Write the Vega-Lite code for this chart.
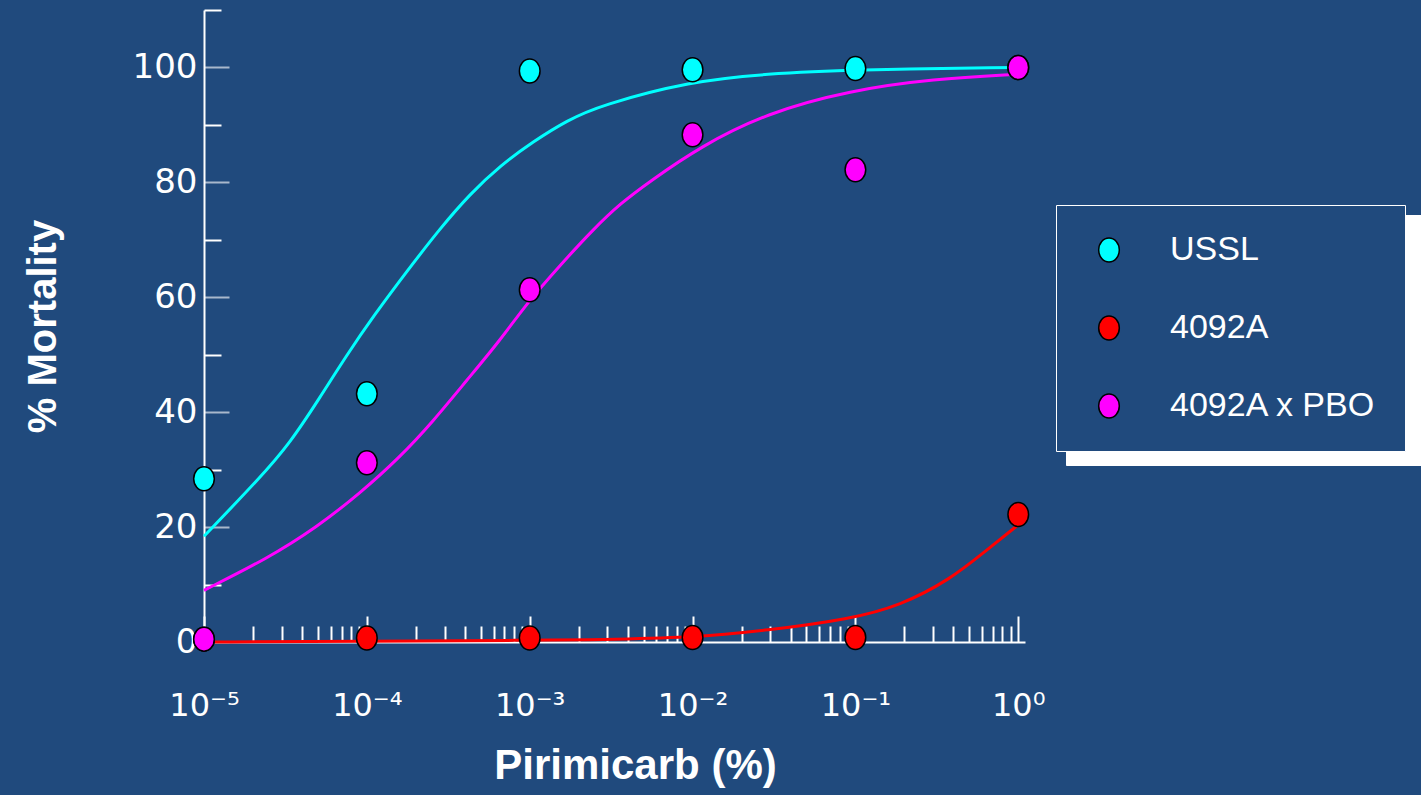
{
  "$schema": "https://vega.github.io/schema/vega-lite/v6.json",
  "width": 821,
  "height": 632,
  "autosize": {"type": "none"},
  "padding": {"left": 204, "top": 10, "right": 396, "bottom": 153},
  "background": "#204a7d",
  "config": {
    "view": {"stroke": null},
    "font": "Liberation Sans"
  },
  "datasets": {
    "points": [
      {"dose": 0.00001, "mortality": 28.4, "strain": "USSL"},
      {"dose": 0.0001, "mortality": 43.2, "strain": "USSL"},
      {"dose": 0.001, "mortality": 99.4, "strain": "USSL"},
      {"dose": 0.01, "mortality": 99.6, "strain": "USSL"},
      {"dose": 0.1, "mortality": 99.8, "strain": "USSL"},
      {"dose": 1, "mortality": 100, "strain": "USSL"},
      {"dose": 0.00001, "mortality": 0.5, "strain": "4092A"},
      {"dose": 0.0001, "mortality": 0.7, "strain": "4092A"},
      {"dose": 0.001, "mortality": 0.7, "strain": "4092A"},
      {"dose": 0.01, "mortality": 0.8, "strain": "4092A"},
      {"dose": 0.1, "mortality": 0.8, "strain": "4092A"},
      {"dose": 1, "mortality": 22.2, "strain": "4092A"},
      {"dose": 0.00001, "mortality": 0.5, "strain": "4092A x PBO"},
      {"dose": 0.0001, "mortality": 31.2, "strain": "4092A x PBO"},
      {"dose": 0.001, "mortality": 61.3, "strain": "4092A x PBO"},
      {"dose": 0.01, "mortality": 88.3, "strain": "4092A x PBO"},
      {"dose": 0.1, "mortality": 82.2, "strain": "4092A x PBO"},
      {"dose": 1, "mortality": 100, "strain": "4092A x PBO"}
    ],
    "curves": [
      {"dose": 0.00001, "mortality": 18.4, "strain": "USSL"},
      {"dose": 0.0000221, "mortality": 28.6, "strain": "USSL"},
      {"dose": 0.0000337, "mortality": 34.6, "strain": "USSL"},
      {"dose": 0.0000516, "mortality": 42.6, "strain": "USSL"},
      {"dose": 0.0000755, "mortality": 50.0, "strain": "USSL"},
      {"dose": 0.000109, "mortality": 56.6, "strain": "USSL"},
      {"dose": 0.000177, "mortality": 64.6, "strain": "USSL"},
      {"dose": 0.000282, "mortality": 72.0, "strain": "USSL"},
      {"dose": 0.000431, "mortality": 78.0, "strain": "USSL"},
      {"dose": 0.000658, "mortality": 82.9, "strain": "USSL"},
      {"dose": 0.00105, "mortality": 87.1, "strain": "USSL"},
      {"dose": 0.0017, "mortality": 90.8, "strain": "USSL"},
      {"dose": 0.00271, "mortality": 93.4, "strain": "USSL"},
      {"dose": 0.00966, "mortality": 97.6, "strain": "USSL"},
      {"dose": 0.0287, "mortality": 98.9, "strain": "USSL"},
      {"dose": 0.0929, "mortality": 99.6, "strain": "USSL"},
      {"dose": 1, "mortality": 100, "strain": "USSL"},
      {"dose": 0.00001, "mortality": 0, "strain": "4092A"},
      {"dose": 0.0001, "mortality": 0.1, "strain": "4092A"},
      {"dose": 0.001, "mortality": 0.3, "strain": "4092A"},
      {"dose": 0.00271, "mortality": 0.4, "strain": "4092A"},
      {"dose": 0.00966, "mortality": 0.75, "strain": "4092A"},
      {"dose": 0.0287, "mortality": 2.0, "strain": "4092A"},
      {"dose": 0.0929, "mortality": 4.0, "strain": "4092A"},
      {"dose": 0.188, "mortality": 6.3, "strain": "4092A"},
      {"dose": 0.382, "mortality": 10.9, "strain": "4092A"},
      {"dose": 0.609, "mortality": 15.5, "strain": "4092A"},
      {"dose": 1, "mortality": 20.4, "strain": "4092A"},
      {"dose": 0.00001, "mortality": 9.0, "strain": "4092A x PBO"},
      {"dose": 0.0000244, "mortality": 14.5, "strain": "4092A x PBO"},
      {"dose": 0.0000494, "mortality": 20.0, "strain": "4092A x PBO"},
      {"dose": 0.0000908, "mortality": 25.9, "strain": "4092A x PBO"},
      {"dose": 0.00016, "mortality": 32.2, "strain": "4092A x PBO"},
      {"dose": 0.000255, "mortality": 38.4, "strain": "4092A x PBO"},
      {"dose": 0.000412, "mortality": 45.6, "strain": "4092A x PBO"},
      {"dose": 0.000658, "mortality": 52.5, "strain": "4092A x PBO"},
      {"dose": 0.000964, "mortality": 59.0, "strain": "4092A x PBO"},
      {"dose": 0.00154, "mortality": 65.6, "strain": "4092A x PBO"},
      {"dose": 0.00245, "mortality": 71.8, "strain": "4092A x PBO"},
      {"dose": 0.00359, "mortality": 76.3, "strain": "4092A x PBO"},
      {"dose": 0.00549, "mortality": 80.2, "strain": "4092A x PBO"},
      {"dose": 0.0111, "mortality": 86.2, "strain": "4092A x PBO"},
      {"dose": 0.0287, "mortality": 92.1, "strain": "4092A x PBO"},
      {"dose": 0.0929, "mortality": 96.0, "strain": "4092A x PBO"},
      {"dose": 0.3, "mortality": 98.0, "strain": "4092A x PBO"},
      {"dose": 1, "mortality": 98.8, "strain": "4092A x PBO"}
    ]
  },
  "encoding": {
    "x": {
      "field": "dose",
      "type": "quantitative",
      "scale": {"type": "log", "domain": [0.00001, 1.1], "nice": false},
      "axis": {
        "title": "Pirimicarb (%)",
        "titleFont": "Liberation Sans",
        "titleFontSize": 42,
        "titleFontWeight": "bold",
        "titleColor": "white",
        "titleX": 431,
        "titleY": 136,
        "titleAlign": "center",
        "titleBaseline": "alphabetic",
        "values": [0.00001, 0.00002, 0.00003, 0.00004, 0.00005, 0.00006, 0.00007, 0.00008, 0.00009,
                   0.0001, 0.0002, 0.0003, 0.0004, 0.0005, 0.0006, 0.0007, 0.0008, 0.0009,
                   0.001, 0.002, 0.003, 0.004, 0.005, 0.006, 0.007, 0.008, 0.009,
                   0.01, 0.02, 0.03, 0.04, 0.05, 0.06, 0.07, 0.08, 0.09,
                   0.1, 0.2, 0.3, 0.4, 0.5, 0.6, 0.7, 0.8, 0.9, 1],
        "labelExpr": "abs(log(datum.value)/LN10 - round(log(datum.value)/LN10)) < 0.000001 ? '10' + ['⁻⁵','⁻⁴','⁻³','⁻²','⁻¹','⁰'][round(log(datum.value)/LN10) + 5] : ''",
        "labelFont": "DejaVu Sans",
        "labelFontSize": 32,
        "labelColor": "white",
        "labelFlush": false,
        "labelOverlap": false,
        "labelBaseline": "top",
        "labelPadding": 74,
        "domainColor": "white",
        "domainWidth": 2,
        "tickColor": "white",
        "tickWidth": 2,
        "tickSize": {"condition": {"test": "abs(log(datum.value)/LN10 - round(log(datum.value)/LN10)) < 0.000001", "value": -26}, "value": -16},
        "grid": false
      }
    },
    "y": {
      "field": "mortality",
      "type": "quantitative",
      "scale": {"domain": [0, 110], "nice": false},
      "axis": {
        "title": "% Mortality",
        "titleFont": "Liberation Sans",
        "titleFontSize": 40,
        "titleFontWeight": "bold",
        "titleColor": "white",
        "titleAngle": 270,
        "titleX": -161,
        "titleY": 316,
        "titleAlign": "center",
        "titleBaseline": "middle",
        "values": [0, 10, 20, 30, 40, 50, 60, 70, 80, 90, 100, 110],
        "labelExpr": "datum.value % 20 === 0 && datum.value <= 100 ? datum.label : ''",
        "labelFont": "DejaVu Sans",
        "labelFontSize": 34,
        "labelColor": "white",
        "labelPadding": 32,
        "labelFlush": false,
        "labelOverlap": false,
        "domainColor": "white",
        "domainWidth": 2,
        "tickColor": {"condition": {"test": "datum.value % 20 === 0", "value": "#a9b8cc"}, "value": "white"},
        "tickWidth": 2,
        "tickSize": {"condition": {"test": "datum.value % 20 === 0", "value": -25}, "value": -17},
        "grid": false
      }
    }
  },
  "layer": [
    {
      "data": {"name": "curves"},
      "mark": {"type": "line", "strokeWidth": 3, "interpolate": "basis"},
      "encoding": {
        "stroke": {
          "field": "strain",
          "type": "nominal",
          "scale": {"domain": ["4092A", "4092A x PBO", "USSL"], "range": ["#ff0000", "#ff00ff", "#00ffff"]},
          "legend": {
            "title": null,
            "orient": "none",
            "legendX": 862,
            "legendY": 205,
            "zindex": 0,
            "padding": 28,
            "symbolOffset": 8,
            "strokeColor": "white",
            "fillColor": "white",
            "labelColor": "white",
            "labelOpacity": 0,
            "labelExpr": "'\u00a0'",
            "labelFontSize": 34,
            "labelFont": "Liberation Sans",
            "labelOffset": 350,
            "labelLimit": 600,
            "rowPadding": 46,
            "symbolSize": 576,
            "symbolType": "circle",
            "symbolOpacity": 0
          }
        },
        "detail": {"field": "strain"}
      }
    },
    {
      "data": {"name": "points"},
      "mark": {
        "type": "point",
        "filled": true,
        "opacity": 1,
        "size": 576,
        "shape": "M 0.86 0 A 0.86 1 0 1 1 -0.86 0 A 0.86 1 0 1 1 0.86 0 Z",
        "stroke": "black",
        "strokeWidth": 1.5
      },
      "encoding": {
        "fill": {
          "field": "strain",
          "type": "nominal",
          "scale": {"domain": ["USSL", "4092A", "4092A x PBO"], "range": ["#00ffff", "#ff0000", "#ff00ff"]},
          "legend": {
            "title": null,
            "orient": "none",
            "legendX": 852,
            "legendY": 195,
            "zindex": 1,
            "padding": 28,
            "symbolOffset": 8,
            "strokeColor": "white",
            "fillColor": "#204a7d",
            "labelColor": "white",
            "labelFontSize": 34,
            "labelFont": "Liberation Sans",
            "labelOffset": 44,
            "labelLimit": 400,
            "rowPadding": 44,
            "symbolSize": 576,
            "symbolType": "M 0.86 0 A 0.86 1 0 1 1 -0.86 0 A 0.86 1 0 1 1 0.86 0 Z",
            "symbolStrokeColor": "black",
            "symbolStrokeWidth": 1.5,
            "symbolOpacity": 1
          }
        }
      }
    }
  ]
}
